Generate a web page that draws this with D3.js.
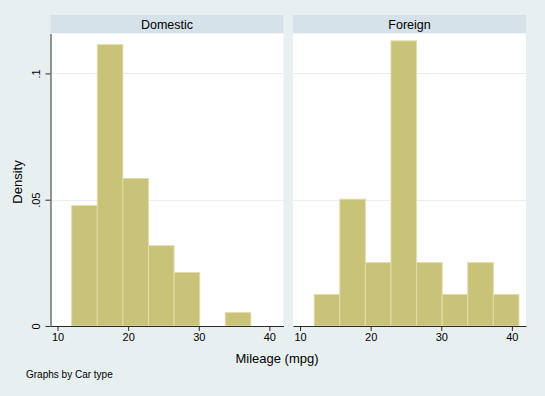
<!DOCTYPE html>
<html>
<head>
<meta charset="utf-8">
<script src="https://cdn.jsdelivr.net/npm/d3@7"></script>
<style>
  body { margin: 0; background: #e8eff1; }
  text { font-family: "Liberation Sans", Arial, sans-serif; fill: #000; }
</style>
</head>
<body>
<svg id="chart" width="545" height="396"></svg>
<script>
// Histogram bins: start at 12, width 3.625 (8 bins up to 41)
var binEdges = [12, 15.625, 19.25, 22.875, 26.5, 30.125, 33.75, 37.375, 41];
var panels = ['Domestic', 'Foreign'];
// density per bin
var domesticDensity = [0.0477, 0.1114, 0.0584, 0.0318, 0.0212, 0, 0.0053, 0];
var foreignDensity = [0.0125, 0.0502, 0.0251, 0.1129, 0.0251, 0.0125, 0.0251, 0.0125];
var xTicks = [10, 20, 30, 40];
var yTicks = [0, 0.05, 0.1];
var yTickLabels = ['0', '.05', '.1'];

var svg = d3.select('#chart');
var fill = '#c9c37a', edge = '#e2dcab', axisColor = '#2b2b2b';
var font = '"Liberation Sans", Arial, sans-serif';

svg.append('rect').attr('width', 545).attr('height', 396).attr('fill', '#e8eff1');

var plotTop = 33.5, plotBottom = 326;
var panelX = [[50.5, 283.5], [293, 526]];

var y = d3.scaleLinear().domain([0, 0.1158]).range([plotBottom, plotTop]);

function drawPanel(i, values) {
  var x = d3.scaleLinear().domain([9, 42]).range(panelX[i]);
  var g = svg.append('g');

  // Header strip.
  g.append('rect')
    .attr('x', panelX[i][0]).attr('y', 15)
    .attr('width', panelX[i][1] - panelX[i][0]).attr('height', 18)
    .attr('fill', '#d5e2ea');
  g.append('text')
    .attr('x', (panelX[i][0] + panelX[i][1]) / 2).attr('y', 28.5)
    .attr('text-anchor', 'middle').style('font-size', '12.5px')
    .text(panels[i]);

  // Plot area.
  g.append('rect')
    .attr('x', panelX[i][0]).attr('y', plotTop)
    .attr('width', panelX[i][1] - panelX[i][0]).attr('height', plotBottom - plotTop)
    .attr('fill', '#fff');

  // Gridlines.
  g.selectAll('line.grid').data(yTicks.slice(1)).enter().append('line')
    .attr('class', 'grid')
    .attr('x1', panelX[i][0]).attr('x2', panelX[i][1])
    .attr('y1', d => Math.round(y(d)) + 0.5).attr('y2', d => Math.round(y(d)) + 0.5)
    .attr('stroke', '#e8eff1');

  // Bars (empty bins skipped).
  var bins = values.map((d, j) => ({ x0: binEdges[j], x1: binEdges[j + 1], v: d }))
    .filter(b => b.v > 0);
  g.selectAll('rect.bar').data(bins).enter().append('rect')
    .attr('class', 'bar')
    .attr('x', b => x(b.x0))
    .attr('y', b => y(b.v))
    .attr('width', b => x(b.x1) - x(b.x0))
    .attr('height', b => y(0) - y(b.v))
    .attr('fill', fill).attr('stroke', edge);

  // X axis.
  var ax = g.append('g').attr('transform', 'translate(0,' + plotBottom + ')')
    .call(d3.axisBottom(x).tickValues(xTicks).tickSize(5).tickPadding(2).tickSizeOuter(0));
  ax.select('.domain').attr('stroke', axisColor);
  ax.selectAll('.tick line').attr('stroke', axisColor);
  ax.selectAll('.tick text').style('font-size', '11px').style('font-family', font);

  // Y axis on left panel only.
  if (i === 0) {
    var ay = g.append('g').attr('transform', 'translate(' + panelX[i][0] + ',0)')
      .call(d3.axisLeft(y).tickValues(yTicks).tickFormat((d, k) => yTickLabels[k]).tickSize(5).tickSizeOuter(0));
    ay.select('.domain').attr('stroke', axisColor);
    ay.selectAll('.tick line').attr('stroke', axisColor);
    ay.selectAll('.tick text')
      .style('font-size', '11px').style('font-family', font)
      .attr('text-anchor', 'middle')
      .attr('transform', 'translate(-11,0) rotate(-90)')
      .attr('x', 0).attr('dy', 0);
  }
}

drawPanel(0, domesticDensity);
drawPanel(1, foreignDensity);

// Axis titles and note.
svg.append('text')
  .attr('x', 277).attr('y', 363).attr('text-anchor', 'middle')
  .style('font-size', '13px').text('Mileage (mpg)');
svg.append('text')
  .attr('transform', 'translate(22,182) rotate(-90)')
  .attr('text-anchor', 'middle').style('font-size', '13px').text('Density');
svg.append('text')
  .attr('x', 26).attr('y', 378).style('font-size', '10px').text('Graphs by Car type');
</script>
</body>
</html>
